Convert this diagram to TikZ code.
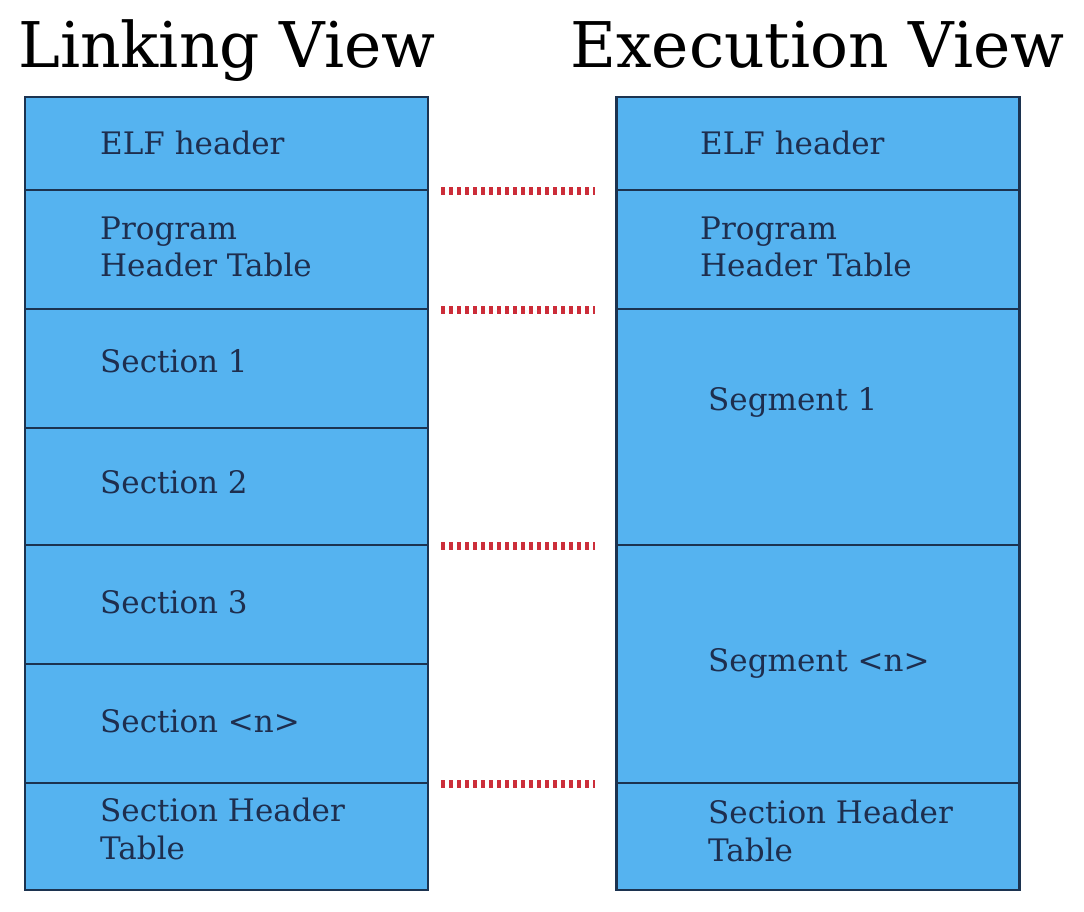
\documentclass[tikz,border=0pt]{standalone}
\usepackage{fontspec}
\setmainfont{DejaVu Serif}
\usetikzlibrary{positioning}
\definecolor{celeste}{HTML}{55B3F0}
\definecolor{bordo}{HTML}{1C3350}
\definecolor{testo}{HTML}{1E2E4E}
\definecolor{rosso}{HTML}{CC2E3A}
\tikzset{
  cella/.style={draw=bordo, fill=celeste, line width=2.4pt, rectangle, inner sep=0pt, minimum width=403pt},
  voce/.style={anchor=west, inner sep=0pt, align=left, text=testo, font=\fontsize{31}{37.5}\selectfont},
  titolo/.style={anchor=base west, inner sep=0pt, font=\fontsize{63}{70}\selectfont},
  legame/.style={draw=rosso, line width=8pt, dash pattern=on 3.5pt off 4.5pt, shorten <=12pt, shorten >=20pt}
}
\begin{document}
\begin{tikzpicture}[x=1pt, y=-1pt]
    \useasboundingbox (0,0) rectangle (1084,912);
    % Disegna i titoli
    \node[titolo] (tlink) at (18,68) {Linking View};
    \node[titolo] (texec) at (570,68) {Execution View};
    % Disegna le celle della vista di linking
    \foreach \n/\ya/\yb in {1/97/190, 2/190/309, 3/309/428, 4/428/545, 5/545/664, 6/664/783, 7/783/890}
      \node[cella, minimum height=\yb-\ya] (l\n) at (226.5,{(\ya+\yb)/2}) {};
    % Disegna le celle della vista di esecuzione
    \foreach \n/\ya/\yb in {1/97/190, 2/190/309, 3/309/545, 4/545/783, 5/783/890}
      \node[cella, minimum height=\yb-\ya] (r\n) at (818,{(\ya+\yb)/2}) {};
    % Scrive le voci
    \node[voce] (lelf) at (100,143) {ELF header};
    \node[voce] (lpht) at (100,247) {Program\\Header Table};
    \node[voce] (lsec1) at (100,361) {Section 1};
    \node[voce] (lsec2) at (100,482) {Section 2};
    \node[voce] (lsec3) at (100,602) {Section 3};
    \node[voce] (lsecn) at (100,721) {Section <n>};
    \node[voce] (lsht) at (100,829) {Section Header\\Table};
    \node[voce] (relf) at (700,143) {ELF header};
    \node[voce] (rpht) at (700,247) {Program\\Header Table};
    \node[voce] (rseg1) at (708,402) {Segment 1};
    \node[voce] (rsegn) at (708,663) {Segment <n>};
    \node[voce] (rsht) at (708,831) {Section Header\\Table};
    % Disegna i collegamenti tratteggiati
    \draw[legame] (l1.south east) -- (r1.south west);
    \draw[legame] (l2.south east) -- (r2.south west);
    \draw[legame] (l4.south east) -- (r3.south west);
    \draw[legame] (l6.south east) -- (r4.south west);
\end{tikzpicture}
\end{document}
